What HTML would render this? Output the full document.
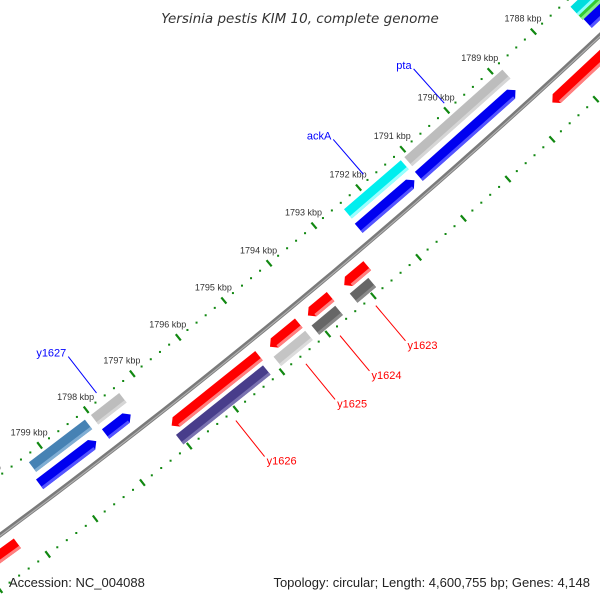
<!DOCTYPE html>
<html><head><meta charset="utf-8"><style>
html,body{margin:0;padding:0;background:#fff;}
svg{display:block;font-family:"Liberation Sans","DejaVu Sans",sans-serif;}
</style></head><body>
<svg id="map" width="600" height="600" viewBox="0 0 600 600" xmlns="http://www.w3.org/2000/svg">
<rect width="600" height="600" fill="#fff"/>
<g id="ticks"></g>
<g id="backbone"></g>
<g id="feats"></g>
<g id="labels"></g>
<text x="300" y="23" text-anchor="middle" font-size="13.5" font-style="italic" fill="#333" style="font-family:'DejaVu Sans',sans-serif">Yersinia pestis KIM 10, complete genome</text>
<text x="9" y="587" font-size="13" fill="#222">Accession: NC_004088</text>
<text x="590" y="587" text-anchor="end" font-size="13" fill="#222">Topology: circular; Length: 4,600,755 bp; Genes: 4,148</text>
</svg>
<script>
const featStart=[1788.83,1788.9,1791.15,1791.2,1786.0,1792.75,1792.87,1793.56,1793.6,1794.26,1794.26,1795.13,1795.18,1797.38,1797.45,1798.12,1798.19,1800.3,1786.0,1786.0,1786.0];
const featEnd=[1791.07,1791.1,1792.43,1792.45,1788.58,1793.26,1793.28,1794.06,1794.12,1794.89,1794.95,1797.02,1797.06,1797.99,1797.99,1799.32,1799.4,1802.5,1787.25,1787.25,1787.23];
const featSlot=[1,0,1,0,2,2,3,2,3,2,3,2,3,1,0,1,0,2,1,4,0];
const featColor=["#bdbdbd","#0000f0","#00eeee","#0000f0","#ff0000","#ff0000","#666666","#ff0000","#666666","#ff0000","#c4c4c4","#ff0000","#483d8b","#bdbdbd","#0000f0","#4682b4","#0000f0","#ff0000","#00dddd","#33cc33","#0000f0"];
const featLight=["#d6d6d6","#5555ff","#99ffff","#5555ff","#ff8080","#ff8080","#8a8a8a","#ff8080","#8a8a8a","#ff8080","#dcdcdc","#ff8080","#7a72b0","#d6d6d6","#5555ff","#80aed4","#5555ff","#ff8080","#88ffff","#88ee88","#5555ff"];
const featHead=[0,-1,0,-1,1,1,0,1,0,1,0,1,0,0,-1,0,-1,0,0,0,0];
const slotR=[6671,6653,6705,6721,6662];
const slotHW=[6,6,6,6,3];
const tickMajor=[1787,1788,1789,1790,1791,1792,1793,1794,1795,1796,1797,1798,1799,1800,1801];
const tickLabels=["1787 kbp","1788 kbp","1789 kbp","1790 kbp","1791 kbp","1792 kbp","1793 kbp","1794 kbp","1795 kbp","1796 kbp","1797 kbp","1798 kbp","1799 kbp","1800 kbp","1801 kbp"];
const labelText=["pta","ackA","y1627","y1623","y1624","y1625","y1626"];
const labelFeat=[0,2,13,6,8,10,12];
const labelColor=["#0000ff","#0000ff","#0000ff","#ff0000","#ff0000","#ff0000","#ff0000"];

const NS="http://www.w3.org/2000/svg";
const cx=-3973, cy=-4845, R0=6688, tickIn=6640, tickOut=6732;
function ang(k){return (48.27+(k-1790)*0.5056)*Math.PI/180;}
function P(k,r){const a=ang(k);return [cx+r*Math.cos(a),cy+r*Math.sin(a)];}
function mk(tag,parent,attrs){const e=document.createElementNS(NS,tag);for(const k in attrs)e.setAttribute(k,attrs[k]);parent.appendChild(e);return e;}
function pts(a){return a.map(p=>p[0].toFixed(2)+","+p[1].toFixed(2)).join(" ");}

const bb=document.getElementById('backbone');
let bp=[];for(let k=1785;k<=1803;k+=0.25)bp.push(P(k,R0));
const b1=mk('polyline',bb,{points:pts(bp),fill:'none',stroke:'#7a7a7a','stroke-width':4.5});


let bp2=[];for(let k=1785;k<=1803;k+=0.25)bp2.push(P(k,R0+0.8));
const b2=mk('polyline',bb,{points:pts(bp2),fill:'none',stroke:'#b0b0b0','stroke-width':1.2});



const tg=document.getElementById('ticks');
for(let i=0;i<=14*5;i++){
  const k=1787+i*0.2;
  if(i%5===0)continue;
  [tickIn,tickOut].forEach(r=>{
    const p=P(k,r);
    const d=mk('rect',tg,{x:(p[0]-1).toFixed(2),y:(p[1]-1).toFixed(2),width:2,height:2,fill:'#118811'});
    
    
  });
}
tickMajor.forEach((k,i)=>{
  [tickIn,tickOut].forEach(r=>{
    const a=P(k,r-4),b=P(k,r+4);
    const l=mk('line',tg,{x1:a[0],y1:a[1],x2:b[0],y2:b[1],stroke:'#118811','stroke-width':2.2});
    
    
  });
  const t=P(k,tickIn);
  const tx=mk('text',tg,{x:(t[0]+8).toFixed(1),y:(t[1]-10).toFixed(1),'text-anchor':'end','font-size':'9',fill:'#333'});
  tx.textContent=tickLabels[i];
  
  
});

const fg=document.getElementById('feats');
const H=0.1;
featStart.forEach((s,i)=>{
  const e=featEnd[i], r=slotR[featSlot[i]], hw=slotHW[featSlot[i]], hd=featHead[i];
  const s2=hd===-1?s+H:s, e2=hd===1?e-H:e;
  let poly=[P(s2,r-hw),P(e2,r-hw)];
  if(hd===1)poly.push(P(e,r));
  poly.push(P(e2,r+hw),P(s2,r+hw));
  if(hd===-1)poly.push(P(s,r));
  const g=mk('polygon',fg,{points:pts(poly),fill:featColor[i]});
  
  
  const lp=[P(s2,r+hw-3),P(e2,r+hw-3),P(e2,r+hw),P(s2,r+hw)];
  const h=mk('polygon',fg,{points:pts(lp),fill:featLight[i]});
  
  
});

const lg=document.getElementById('labels');
labelText.forEach((txt,i)=>{
  const f=labelFeat[i], r=slotR[featSlot[f]];
  const mid=(featStart[f]+featEnd[f])/2;
  const inner=r<R0;
  const a=P(mid,inner?r-20:r+20);
  const b=P(mid,inner?r-66:r+66);
  const l=mk('line',lg,{x1:a[0],y1:a[1],x2:b[0],y2:b[1],stroke:labelColor[i],'stroke-width':1});
  
  
  const t=mk('text',lg,{x:(inner?b[0]-2:b[0]+2).toFixed(1),y:(inner?b[1]:b[1]+8).toFixed(1),'text-anchor':inner?'end':'start','font-size':'11',fill:labelColor[i]});
  t.textContent=txt;
  
  
});
</script>
</body></html>
